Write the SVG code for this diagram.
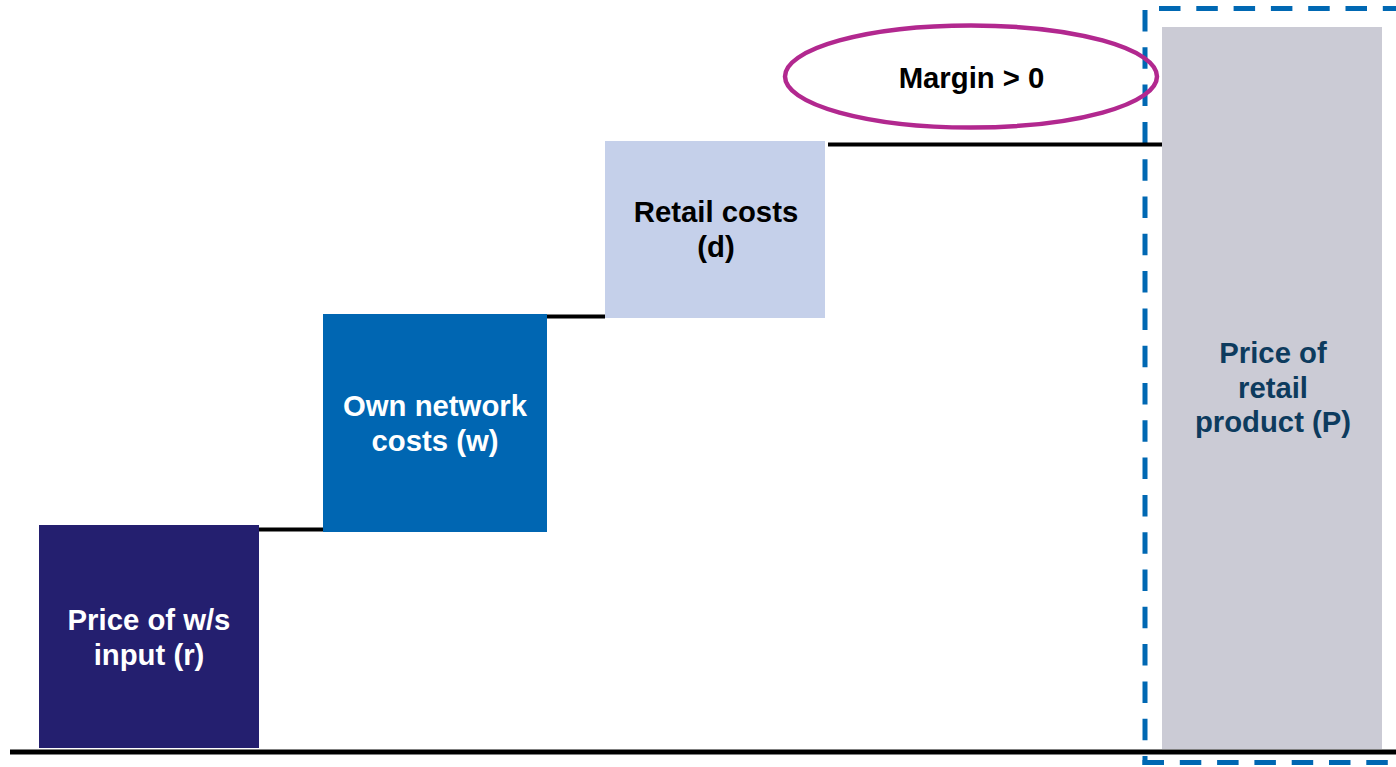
<svg xmlns="http://www.w3.org/2000/svg" width="1396" height="767" viewBox="0 0 1396 767">
<style>
text{font-family:"Liberation Sans",Arial,sans-serif;font-weight:bold;font-size:29.3px;text-anchor:middle}
.link{stroke:#000;stroke-width:4;fill:none}
.dash{stroke:#0068B3;stroke-width:5;fill:none;stroke-dasharray:21.5 15.8}
</style>
<rect width="1396" height="767" fill="#fff"/>
<g id="retail-box">
<line class="dash" x1="1159" y1="8.5" x2="1400" y2="8.5"/>
<line class="dash" x1="1145" y1="10" x2="1145" y2="765"/>
<line class="dash" x1="1142.5" y1="762.5" x2="1400" y2="762.5"/>
</g>
<g id="connectors">
<line class="link" x1="259" y1="529.5" x2="323" y2="529.5"/>
<line class="link" x1="543" y1="316.5" x2="605" y2="316.5"/>
<line class="link" x1="828" y1="144.5" x2="1162" y2="144.5"/>
<line x1="10" y1="752" x2="1396" y2="752" stroke="#000" stroke-width="5"/>
</g>
<g id="node-r">
<rect x="39" y="525" width="220" height="223" fill="#241F6F"/>
<text x="149" y="630" fill="#fff">Price of w/s</text>
<text x="149" y="665" fill="#fff">input (r)</text>
</g>
<g id="node-w">
<rect x="323" y="314" width="224" height="218" fill="#0066B2"/>
<text x="435" y="416" fill="#fff">Own network</text>
<text x="435" y="451" fill="#fff">costs (w)</text>
</g>
<g id="node-d">
<rect x="605" y="141" width="220" height="177" fill="#C5D0EA"/>
<text x="716" y="222" fill="#000">Retail costs</text>
<text x="716" y="257" fill="#000">(d)</text>
</g>
<g id="node-p">
<rect x="1162" y="27" width="220" height="722" fill="#CBCBD5"/>
<text x="1273" y="363" fill="#0D3B5E">Price of</text>
<text x="1273" y="398" fill="#0D3B5E">retail</text>
<text x="1273" y="432" fill="#0D3B5E">product (P)</text>
</g>
<g id="margin">
<ellipse cx="971" cy="76.5" rx="186" ry="51" fill="none" stroke="#B2288F" stroke-width="4.5"/>
<text x="971.5" y="88" fill="#000">Margin &gt; 0</text>
</g>
</svg>
